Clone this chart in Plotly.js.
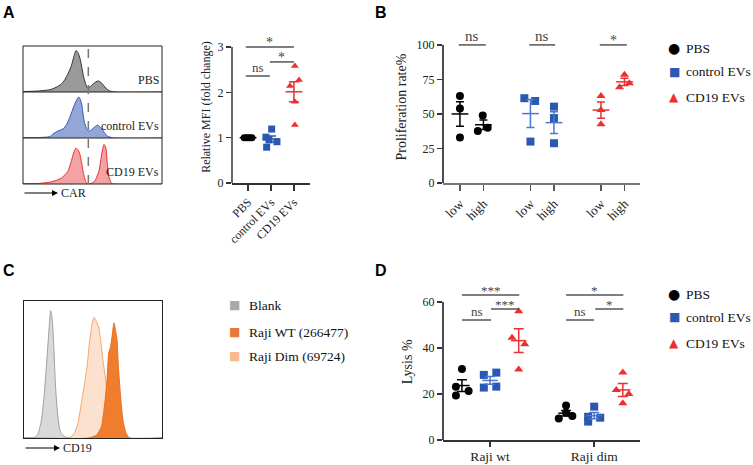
<!DOCTYPE html>
<html><head><meta charset="utf-8">
<script src="https://cdn.plot.ly/plotly-3.0.1.min.js"></script>
<style>html,body{margin:0;padding:0;background:#fff}#chart{width:753px;height:465px}</style>
</head><body><div id="chart"></div>
<script>
// ================= DATA =================
// Panel A (left): CAR histograms, x = % of axis, y = normalised count
const carPBSx  = [0,10,19.3,23,26.5,29,31.3,33,34.9,36.5,38.1,39.5,41,42.2,43.4,45,46.3,48.5,50.6,52.5,54.2,56,57.8,60,62.7,66.3,100];
const carPBSy  = [0.01,0.02,0.05,0.09,0.15,0.22,0.33,0.44,0.58,0.76,0.90,0.86,0.73,0.55,0.36,0.18,0.09,0.12,0.18,0.22,0.24,0.21,0.15,0.07,0.02,0,0];
const carCtrlx = [0,10,19.3,21.7,25,28.9,31.5,33.7,35.5,37.3,38.8,40.2,41.2,42.2,43.9,45.5,47,48.5,50.1,52,53.5,55,56.6,58.5,60.2,62.5,65,100];
const carCtrly = [0.01,0.01,0.03,0.09,0.15,0.2,0.3,0.45,0.6,0.74,0.84,0.89,0.84,0.74,0.38,0.22,0.15,0.16,0.2,0.25,0.28,0.25,0.2,0.12,0.05,0.02,0,0];
const carCD19x = [0,10,19.3,24,27.7,30.5,32.5,34,34.9,36.6,38.1,39.3,40.5,41.7,43.4,45.3,47,49.5,51.8,53.3,54.7,55.7,56.6,57.5,58.3,59.5,60.7,62.2,63.9,66.3,100];
const carCD19y = [0.01,0.01,0.04,0.08,0.13,0.21,0.29,0.42,0.51,0.69,0.78,0.75,0.69,0.54,0.25,0.04,0,0.02,0.07,0.17,0.29,0.46,0.65,0.79,0.86,0.8,0.43,0.11,0.01,0,0];
const carGate = 47;
const histLabelsA = ['PBS','control EVs','CD19 EVs'];

// Panel A (right): relative MFI
const mfiGroups = ['PBS','control EVs','CD19 EVs'];
const mfiPBS  = [1,1,1,1,1];
const mfiCtrl = [1.19,1.01,0.95,0.91,0.79];
const mfiCD19 = [2.58,2.27,2.14,1.79,1.28];
const mfiTicks = [0,1,2,3];

// Panel B: proliferation rate %
const profTickText = ['low','high','low','high','low','high'];
const profPBSLow   = [63,54,33];
const profPBSHigh  = [48.8,37.7,40];
const profCtrlLow  = [61.4,59.4,30];
const profCtrlHigh = [55.3,47,28.8];
const profCD19Low  = [63,52.9,42.5];
const profCD19High = [78.3,69.3,72.2];
const profTicks = [0,25,50,75,100];

// Panel C: CD19 histograms
const cd19Blankx = [0,8,10.1,12.6,14.5,16.2,17.9,19.3,20.5,21.7,22.9,24.6,26.6,29.5,33.1,100];
const cd19Blanky = [0,0.005,0.03,0.13,0.30,0.52,0.76,0.93,0.86,0.64,0.37,0.15,0.04,0.01,0,0];
const cd19Dimx   = [0,30,34.3,36.7,39.1,41.5,43.9,45.7,47.6,49.5,50.7,52.4,54.1,55.6,57.2,59.2,60.9,63.3,65.7,68.1,100];
const cd19Dimy   = [0,0,0.01,0.04,0.11,0.25,0.40,0.52,0.71,0.84,0.88,0.85,0.81,0.71,0.57,0.42,0.28,0.15,0.03,0,0];
const cd19WTx    = [0,46.4,52.4,56,58.5,60.1,61.4,62.8,63.8,65.2,66.4,67.4,68.4,69.8,71.7,74.2,76.6,100];
const cd19WTy    = [0,0,0.02,0.08,0.25,0.42,0.62,0.67,0.74,0.84,0.78,0.72,0.52,0.33,0.13,0.03,0,0];
const cd19Legend = ['Blank','Raji WT (266477)','Raji Dim (69724)'];

// Panel D: lysis %
const lysisCats = ['Raji wt','Raji dim'];
const lysisPBSwt  = [30.9,23.2,19.3,21.3];
const lysisCtrlwt = [28.3,29.3,22.8,23.2];
const lysisCD19wt = [56,44.5,41.6,30.7];
const lysisPBSdim  = [15,11.8,9.4,10.4];
const lysisCtrldim = [14.5,10.1,9.7,8];
const lysisCD19dim = [29.4,21.7,20,16];
const lysisTicks = [0,20,40,60];

const seriesNames = ['PBS','control EVs','CD19 EVs'];

// Significance brackets: [from, to, level, label]
const sigA = [[0.9,3,3.0,'*'],[1.95,3,2.67,'*'],[0.9,1.95,2.36,'ns']];
const sigB = [[0.95,2.1,100,'ns'],[3.95,5.05,100,'ns'],[6.95,8.1,100,'*']];
const sigD = [[0.73,1.28,63,'***'],[1.01,1.28,57,'***'],[0.73,1.01,52.2,'ns'],
              [1.73,2.28,63,'*'],[2.01,2.28,57,'*'],[1.73,2.0,52.2,'ns']];

// ================= STYLE / LAYOUT HELPERS =================
const W=753,H=465;
const px=v=>v/W, py=v=>1-v/H;
const BLACK='#000', BLUE='#2b58b3', RED='#ec2f2f';
const SERIF='Liberation Serif';
const mean=a=>a.reduce((s,v)=>s+v,0)/a.length;
const sem=a=>{const m=mean(a);return Math.sqrt(a.reduce((s,v)=>s+(v-m)*(v-m),0)/(a.length-1))/Math.sqrt(a.length);};

// jitter (horizontal offsets, axis units)
const jitA=[[-0.17,-0.08,0,0.08,0.17],[0.03,-0.22,-0.09,0.26,-0.19],[0.04,0.22,-0.17,0.04,0.04]];
const jitB=[[0,0,0],[-0.03,-0.24,0.18],[-0.26,0.2,0],[0,0,0],[0,0,0],[0,-0.21,0.21]];
const jitD=[[0,-0.058,-0.058,0.064],[-0.06,0.06,-0.06,0.06],[0,-0.064,0.058,0],
            [0,0,-0.07,0.06],[0,-0.058,0.058,-0.058],[0,-0.063,0.058,0]];
const offD=[-0.27,0,0.275];

const traces=[];
function addGroup(vals,center,jit,color,symbol,msize,xa,ya,meanSize,capW,errColor){
  traces.push({type:'scatter',mode:'markers',x:vals.map((v,i)=>center+jit[i]),y:vals,xaxis:xa,yaxis:ya,
    marker:{color:color,symbol:symbol,size:msize,line:{width:0}},hoverinfo:'skip',cliponaxis:false,showlegend:false});
  traces.push({type:'scatter',mode:'markers',x:[center],y:[mean(vals)],xaxis:xa,yaxis:ya,
    marker:{symbol:'line-ew-open',size:meanSize,color:errColor,line:{color:errColor,width:1.5}},
    error_y:{type:'data',array:[sem(vals)],visible:true,color:errColor,thickness:1.5,width:capW},
    hoverinfo:'skip',cliponaxis:false,showlegend:false});
}
function addHist(xs,ys,xa,ya,lc,fc){
  traces.push({type:'scatter',mode:'lines',x:xs,y:ys,xaxis:xa,yaxis:ya,
    line:{color:lc,width:1,shape:'spline',smoothing:0.6},fill:'tozeroy',fillcolor:fc,hoverinfo:'skip',showlegend:false});
}

// Panel A histograms (x4 with y4,y5,y6)
addHist(carPBSx,carPBSy,'x4','y4','#333','#9a9a9a');
addHist(carCtrlx,carCtrly,'x4','y5','#2b58b3','#94a6d8');
addHist(carCD19x,carCD19y,'x4','y6','#ee2a2a','#f3a3a3');
// Panel C histograms
addHist(cd19Blankx,cd19Blanky,'x5','y7','#a0a0a0','#d9d9d9');
addHist(cd19Dimx,cd19Dimy,'x5','y7','#f6a56c','#fde1cf');
addHist(cd19WTx,cd19WTy,'x5','y7','#e8701f','#f07d2d');

// Panel A scatter
addGroup(mfiPBS,1,jitA[0],BLACK,'circle',7,'x','y',12,5,BLACK);
addGroup(mfiCtrl,2,jitA[1],BLUE,'square',7,'x','y',12,5,BLUE);
addGroup(mfiCD19,3,jitA[2],RED,'triangle-up',7,'x','y',12,5,RED);
// Panel B
const bPos=[1,2,4,5,7,8];
const bSets=[[profPBSLow,BLACK,'circle'],[profPBSHigh,BLACK,'circle'],[profCtrlLow,BLUE,'square'],[profCtrlHigh,BLUE,'square'],[profCD19Low,RED,'triangle-up'],[profCD19High,RED,'triangle-up']];
bSets.forEach((s,i)=>addGroup(s[0],bPos[i],jitB[i],s[1],s[2],8,'x2','y2',12,4,s[1]===BLUE?'#4a78cc':s[1]));
// Panel D
const dSets=[[lysisPBSwt,BLACK,'circle',1,0],[lysisCtrlwt,BLUE,'square',1,1],[lysisCD19wt,RED,'triangle-up',1,2],
             [lysisPBSdim,BLACK,'circle',2,0],[lysisCtrldim,BLUE,'square',2,1],[lysisCD19dim,RED,'triangle-up',2,2]];
dSets.forEach((s,i)=>addGroup(s[0],s[3]+offD[s[4]],jitD[i],s[1],s[2],8,'x3','y3',11,5,s[1]===BLUE?'#4a78cc':s[1]));

// ---- axes ----
const base={showgrid:false,zeroline:false,fixedrange:true};
const tickF=(s)=>({family:SERIF,size:s,color:'#222'});
const domA=[px(232),px(310)], domB=[px(443),px(640)];
const domYtop=[(H-183)/H,(H-31.1)/H];
const domYD=[(H-440)/H,(H-283.6)/H];
const histX=[px(23),px(162)];
const strips=[[46,92],[92,138],[138,184]];
const stripDom=strips.map(s=>[(H-s[1])/H,(H-s[0])/H]);
const hiddenAx=Object.assign({},base,{showticklabels:false,ticks:'',showline:false});

const layout={
  width:W,height:H,margin:{l:0,r:0,t:0,b:0},paper_bgcolor:'#fff',plot_bgcolor:'rgba(0,0,0,0)',
  showlegend:false,font:{family:SERIF,size:12,color:'#222'},
  xaxis:Object.assign({},base,{domain:domA,anchor:'y',range:[0.3,3.7],tickvals:[1,2,3],ticktext:mfiGroups,tickangle:-45,
    ticks:'outside',ticklen:6,tickwidth:1.5,tickcolor:'#333',showline:true,linecolor:'#333',linewidth:1.5,tickfont:tickF(12)}),
  yaxis:Object.assign({},base,{domain:domYtop,anchor:'x',range:[0,3.35],tickvals:mfiTicks,ticks:'outside',ticklen:5,tickwidth:1.5,tickcolor:'#333',
    showline:false,tickfont:tickF(12),title:{text:'Relative MFI (fold change)',font:{family:SERIF,size:12,color:'#222'},standoff:4}}),
  xaxis2:Object.assign({},base,{domain:domB,anchor:'y2',range:[0.28,8.66],tickvals:bPos,ticktext:profTickText,tickangle:-45,
    ticks:'outside',ticklen:6,tickwidth:1.5,tickcolor:'#555',showline:true,linecolor:'#777',linewidth:2,tickfont:tickF(13)}),
  yaxis2:Object.assign({},base,{domain:domYtop,anchor:'x2',range:[0,110],tickvals:profTicks,ticks:'outside',ticklen:5,tickwidth:1.5,tickcolor:'#333',
    showline:false,tickfont:tickF(12),title:{text:'Proliferation rate%',font:{family:SERIF,size:14,color:'#222'},standoff:6}}),
  xaxis3:Object.assign({},base,{domain:domB,anchor:'y3',range:[0.548,2.44],tickvals:[1,2],ticktext:lysisCats,
    ticks:'outside',ticklen:5,tickwidth:1.5,tickcolor:'#333',showline:true,linecolor:'#333',linewidth:1.5,tickfont:tickF(13.5),ticklabelstandoff:-2}),
  yaxis3:Object.assign({},base,{domain:domYD,anchor:'x3',range:[0,68],tickvals:lysisTicks,ticks:'outside',ticklen:5,tickwidth:1.5,tickcolor:'#333',
    showline:false,tickfont:tickF(12),title:{text:'Lysis %',font:{family:SERIF,size:14,color:'#222'},standoff:6}}),
  xaxis4:Object.assign({},hiddenAx,{domain:histX,anchor:'y6',range:[0,100]}),
  yaxis4:Object.assign({},hiddenAx,{domain:stripDom[0],anchor:'x4',range:[0,1]}),
  yaxis5:Object.assign({},hiddenAx,{domain:stripDom[1],anchor:'x4',range:[0,1]}),
  yaxis6:Object.assign({},hiddenAx,{domain:stripDom[2],anchor:'x4',range:[0,1]}),
  xaxis5:Object.assign({},hiddenAx,{domain:[px(24),px(162)],anchor:'y7',range:[0,100],showline:true,mirror:true,linecolor:'#222',linewidth:1}),
  yaxis7:Object.assign({},hiddenAx,{domain:[(H-438)/H,(H-301)/H],anchor:'x5',range:[0,1],showline:true,mirror:true,linecolor:'#222',linewidth:1}),
  shapes:[],annotations:[]
};

// y axis lines (only over the labelled range)
layout.shapes.push({type:'line',xref:'paper',yref:'y',x0:domA[0],x1:domA[0],y0:0,y1:3,line:{color:'#333',width:1.5}});
layout.shapes.push({type:'line',xref:'paper',yref:'y2',x0:domB[0],x1:domB[0],y0:0,y1:100,line:{color:'#111',width:1.5}});
layout.shapes.push({type:'line',xref:'paper',yref:'y3',x0:domB[0],x1:domB[0],y0:0,y1:60,line:{color:'#111',width:1.5}});
// histogram frame A
layout.shapes.push({type:'rect',xref:'paper',yref:'paper',x0:histX[0],x1:histX[1],y0:stripDom[2][0],y1:stripDom[0][1],line:{color:'#222',width:1}});
layout.shapes.push({type:'line',xref:'paper',yref:'paper',x0:histX[0],x1:histX[1],y0:stripDom[0][0],y1:stripDom[0][0],line:{color:'#222',width:1}});
layout.shapes.push({type:'line',xref:'paper',yref:'paper',x0:histX[0],x1:histX[1],y0:stripDom[1][0],y1:stripDom[1][0],line:{color:'#222',width:1}});
layout.shapes.push({type:'line',xref:'x4',yref:'paper',x0:carGate,x1:carGate,y0:stripDom[2][0],y1:stripDom[0][1],line:{color:'#777',width:1.5,dash:'dash'}});

// histogram labels A
histLabelsA.forEach((t,i)=>layout.annotations.push({xref:'paper',yref:'paper',x:px(161),y:py(strips[i][1]-3),xanchor:'right',yanchor:'bottom',
  text:t,showarrow:false,font:{family:SERIF,size:12,color:'#222'}}));

// arrows
function arrow(xTip,y,len,label){
  layout.annotations.push({xref:'paper',yref:'paper',x:px(xTip),y:py(y),ax:-len,ay:0,text:'',showarrow:true,arrowhead:2,arrowsize:1,arrowwidth:1.2,arrowcolor:'#000',standoff:0,startstandoff:0});
  layout.annotations.push({xref:'paper',yref:'paper',x:px(xTip+1),y:py(y),xanchor:'left',yanchor:'middle',text:label,showarrow:false,font:{family:SERIF,size:12,color:'#222'}});
}
arrow(58,193,35,'CAR');
arrow(60,448,36,'CD19');

// significance
function sig(list,xa,ya,fsNs,fsStar){
  list.forEach(s=>{
    layout.shapes.push({type:'line',xref:xa,yref:ya,x0:s[0],x1:s[1],y0:s[2],y1:s[2],line:{color:'#555',width:1.5}});
    const isNs=s[3]==='ns';
    layout.annotations.push({xref:xa,yref:ya,x:(s[0]+s[1])/2,y:s[2],xanchor:'center',yanchor:'bottom',yshift:isNs?-1:-5,
      text:s[3],showarrow:false,font:{family:SERIF,size:isNs?fsNs:fsStar,color:'#444'}});
  });
}
sig(sigA,'x','y',13,14);
sig(sigB,'x2','y2',15,14);
sig(sigD,'x3','y3',13,13);

// panel letters
[['A',1,13],['B',373,13],['C',1,270],['D',373,270]].forEach(l=>layout.annotations.push({xref:'paper',yref:'paper',x:px(l[1]),y:py(l[2]),
  xanchor:'left',yanchor:'middle',text:'<b>'+l[0]+'</b>',showarrow:false,font:{family:'Liberation Sans',size:16,color:'#000'}}));

// legends (glyph + label)
const glyphs=[['●',BLACK,14],['■',BLUE,12],['▲',RED,12]];
function legend(xg,xt,ys,names,gl){
  names.forEach((n,i)=>{
    layout.annotations.push({xref:'paper',yref:'paper',x:px(xg),y:py(ys[i]),xanchor:'center',yanchor:'middle',text:gl[i][0],showarrow:false,
      font:{family:'DejaVu Sans',size:gl[i][2],color:gl[i][1]}});
    layout.annotations.push({xref:'paper',yref:'paper',x:px(xt),y:py(ys[i]),xanchor:'left',yanchor:'middle',text:n,showarrow:false,
      font:{family:SERIF,size:13.5,color:'#111'}});
  });
}
legend(674,684,[48,72,97],seriesNames,glyphs);
legend(674,684,[294,317,343],seriesNames,glyphs);
legend(234,247,[305,332,356],cd19Legend,[['■','#a9a9a9',12],['■','#e8773a',12],['■','#f9bb8e',12]]);

Plotly.newPlot('chart',traces,layout,{staticPlot:true,displayModeBar:false});
</script></body></html>
